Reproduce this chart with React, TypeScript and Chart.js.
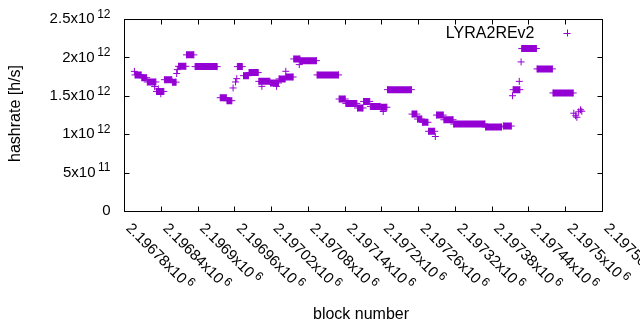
import React, { useEffect, useRef } from 'react';
import { Chart, registerables } from 'chart.js';

Chart.register(...registerables);

const seriesName = 'LYRA2REv2';
const xTitle = 'block number';
const yTitle = 'hashrate [h/s]';

const xMin = 2196780;
const xMax = 2197560;
const xStep = 60;
const yMin = 0;
const yMax = 2.5e12;
const yStep = 5e11;

// runs of consecutive blocks sharing one hashrate value (first block, last block, value)
const runStart = [2196798, 2196809, 2196818, 2196833, 2196846, 2196859, 2196869, 2196882, 2196896, 2196937, 2196948, 2196965, 2196975, 2196984, 2197000, 2197019, 2197033, 2197044, 2197057, 2197068, 2197095, 2197131, 2197142, 2197161, 2197171, 2197182, 2197199, 2197210, 2197250, 2197259, 2197267, 2197277, 2197290, 2197302, 2197318, 2197370, 2197399, 2197415, 2197429, 2197454, 2197480];
const runEnd = [2196808, 2196817, 2196832, 2196845, 2196858, 2196865, 2196881, 2196894, 2196932, 2196947, 2196956, 2196973, 2196983, 2196999, 2197018, 2197032, 2197043, 2197056, 2197067, 2197094, 2197130, 2197141, 2197160, 2197170, 2197181, 2197198, 2197209, 2197249, 2197258, 2197266, 2197276, 2197287, 2197301, 2197317, 2197369, 2197396, 2197412, 2197426, 2197453, 2197479, 2197513];
const runHash = [1.772e12, 1.736e12, 1.68e12, 1.557e12, 1.71e12, 1.678e12, 1.884e12, 2.033e12, 1.88e12, 1.475e12, 1.436e12, 1.88e12, 1.762e12, 1.802e12, 1.688e12, 1.667e12, 1.72e12, 1.745e12, 1.98e12, 1.958e12, 1.772e12, 1.458e12, 1.401e12, 1.341e12, 1.427e12, 1.362e12, 1.351e12, 1.58e12, 1.262e12, 1.197e12, 1.155e12, 1.038e12, 1.249e12, 1.188e12, 1.132e12, 1.094e12, 1.106e12, 1.58e12, 2.115e12, 1.85e12, 1.537e12];

// isolated blocks
const pointBlock = [2196797, 2196830, 2196836, 2196840, 2196866, 2196867, 2196958, 2196962, 2196964, 2197005, 2197029, 2197044, 2197066, 2197203, 2197288, 2197414, 2197425, 2197428, 2197514, 2197517, 2197519, 2197522, 2197525, 2197527];
const pointHash = [1.818e12, 1.62e12, 1.59e12, 1.527e12, 1.79e12, 1.841e12, 1.602e12, 1.68e12, 1.723e12, 1.623e12, 1.623e12, 1.819e12, 1.906e12, 1.296e12, 0.97e12, 1.501e12, 1.688e12, 1.941e12, 1.273e12, 1.24e12, 1.22e12, 1.292e12, 1.318e12, 1.299e12];

const PURPLE = '#9400d3';
const FONT = '"Liberation Sans", Arial, sans-serif';
const TICK_FONT = 15;
const SUP_FONT = 12;
const SUP_GAP = 2.5;
const TITLE_FONT = 16;
const TICK_LEN = 5;
const MARK_R = 3.5;

function sci(v: number): [string, string] {
  if (v === 0) return ['0', ''];
  const exp = Math.floor(Math.log10(Math.abs(v)) + 1e-9);
  const mant = parseFloat((v / Math.pow(10, exp)).toPrecision(10));
  return [String(mant) + 'x10', String(exp)];
}

const gnuplotFrame = {
  id: 'gnuplotFrame',
  afterDraw(chart: any) {
    const { ctx, chartArea: a } = chart;
    const xs = chart.scales.x;
    const ys = chart.scales.y;
    const L = Math.round(a.left) + 0.5;
    const R = Math.round(a.right) + 0.5;
    const T = Math.round(a.top) + 0.5;
    const B = Math.round(a.bottom) + 0.5;
    ctx.save();
    ctx.strokeStyle = '#000';
    ctx.lineWidth = 1;
    ctx.strokeRect(L, T, R - L, B - T);
    ctx.beginPath();
    xs.ticks.forEach((t: any) => {
      const px = Math.round(xs.getPixelForValue(t.value)) + 0.5;
      ctx.moveTo(px, B); ctx.lineTo(px, B - TICK_LEN);
      ctx.moveTo(px, T); ctx.lineTo(px, T + TICK_LEN);
    });
    ys.ticks.forEach((t: any) => {
      const py = Math.round(ys.getPixelForValue(t.value)) + 0.5;
      ctx.moveTo(L, py); ctx.lineTo(L + TICK_LEN, py);
      ctx.moveTo(R, py); ctx.lineTo(R - TICK_LEN, py);
    });
    ctx.stroke();

    const mainF = `${TICK_FONT}px ${FONT}`;
    const supF = `${SUP_FONT}px ${FONT}`;
    ctx.fillStyle = '#000';
    ctx.textBaseline = 'middle';
    ctx.textAlign = 'left';
    // y tick labels
    ys.ticks.forEach((t: any) => {
      const [m, e] = sci(t.value);
      const py = ys.getPixelForValue(t.value);
      ctx.font = mainF;
      const mw = ctx.measureText(m).width;
      ctx.font = supF;
      const ew = e ? ctx.measureText(e).width + SUP_GAP : 0;
      const right = a.left - 13.5;
      ctx.font = mainF;
      ctx.fillText(m, right - ew - mw, py);
      if (e) { ctx.font = supF; ctx.fillText(e, right - ew + SUP_GAP, py - 4.5); }
    });
    // x tick labels, rotated
    xs.ticks.forEach((t: any) => {
      const [m, e] = sci(t.value);
      const px = xs.getPixelForValue(t.value);
      ctx.save();
      ctx.translate(px + 4.3, 226);
      ctx.rotate(Math.PI / 4);
      ctx.font = mainF;
      ctx.fillText(m, 0, 0);
      const mw = ctx.measureText(m).width;
      if (e) { ctx.font = supF; ctx.fillText(e, mw + SUP_GAP, -4.5); }
      ctx.restore();
    });
    // axis titles
    ctx.font = `${TITLE_FONT}px ${FONT}`;
    ctx.textAlign = 'center';
    ctx.fillText(xTitle, (a.left + a.right) / 2 - 2, 315);
    ctx.save();
    ctx.translate(15.5, (a.top + a.bottom) / 2 - 1.5);
    ctx.rotate(-Math.PI / 2);
    ctx.fillText(yTitle, 0, 0);
    ctx.restore();
    // key
    ctx.textAlign = 'right';
    ctx.textBaseline = 'alphabetic';
    ctx.fillText(seriesName, 534.5, 38.3);
    ctx.strokeStyle = PURPLE;
    ctx.beginPath();
    ctx.moveTo(567 - MARK_R, 33.5); ctx.lineTo(567 + MARK_R, 33.5);
    ctx.moveTo(567.5, 33 - MARK_R); ctx.lineTo(567.5, 33 + MARK_R);
    ctx.stroke();
    ctx.restore();
  },
};

export default function App() {
  const ref = useRef<HTMLCanvasElement | null>(null);
  useEffect(() => {
    if (!ref.current) return;
    const runData: any[] = [];
    runStart.forEach((s, i) => {
      runData.push({ x: s, y: runHash[i] });
      runData.push({ x: runEnd[i], y: runHash[i] });
      runData.push({ x: runEnd[i], y: null });
    });
    const pointData = pointBlock.map((b, i) => ({ x: b, y: pointHash[i] }));
    const chart = new Chart(ref.current, {
      type: 'scatter',
      data: {
        datasets: [
          {
            label: seriesName,
            data: runData,
            showLine: true,
            spanGaps: false,
            borderColor: PURPLE,
            backgroundColor: PURPLE,
            borderWidth: 7,
            borderCapStyle: 'butt',
            pointStyle: 'cross',
            pointRadius: MARK_R,
            pointHoverRadius: MARK_R,
            pointBorderWidth: 1,
            pointBorderColor: PURPLE,
          } as any,
          {
            label: seriesName + ' ',
            data: pointData,
            showLine: false,
            borderColor: PURPLE,
            backgroundColor: PURPLE,
            pointStyle: 'cross',
            pointRadius: MARK_R,
            pointHoverRadius: MARK_R,
            pointBorderWidth: 1,
            pointBorderColor: PURPLE,
          } as any,
        ],
      },
      options: {
        responsive: false,
        animation: false,
        events: [],
        layout: { padding: { left: 124, right: 38, top: 19, bottom: 119 } },
        plugins: { legend: { display: false }, tooltip: { enabled: false } },
        scales: {
          x: { type: 'linear', display: false, min: xMin, max: xMax, ticks: { stepSize: xStep, autoSkip: false, maxTicksLimit: 100 } },
          y: { type: 'linear', display: false, min: yMin, max: yMax, ticks: { stepSize: yStep, autoSkip: false, maxTicksLimit: 100 } },
        },
      },
      plugins: [gnuplotFrame],
    });
    return () => chart.destroy();
  }, []);
  return (
    <div style={{ position: 'fixed', left: 0, top: 0, width: 640, height: 330, background: '#fff' }}>
      <canvas ref={ref} width={640} height={330} style={{ width: 640, height: 330, display: 'block' }} />
    </div>
  );
}
